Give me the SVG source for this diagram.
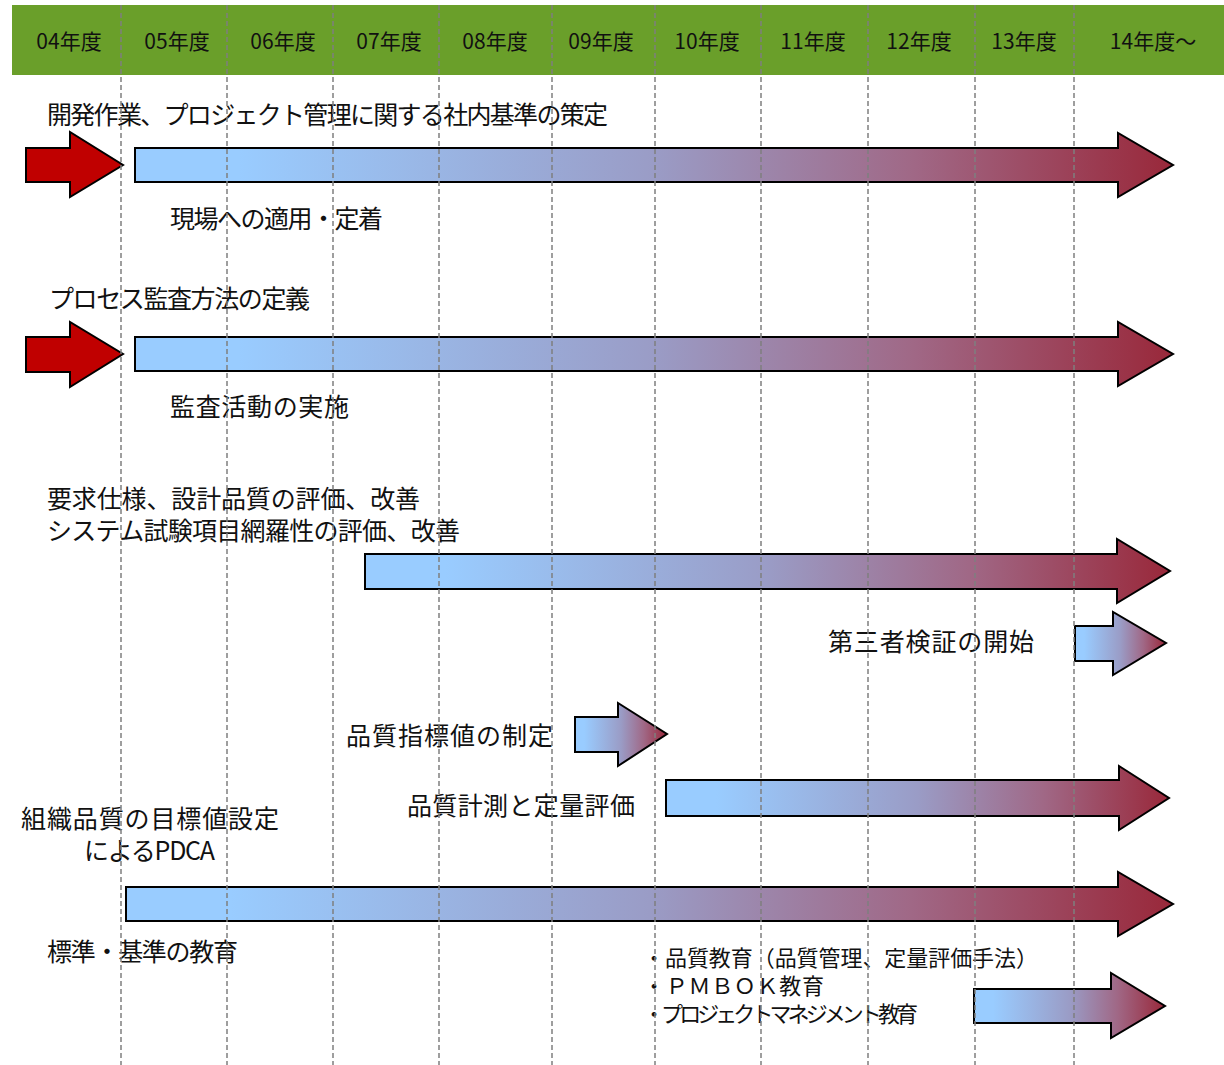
<svg xmlns="http://www.w3.org/2000/svg" width="1224" height="1065" viewBox="0 0 1224 1065">
<style>
text{font-family:"Meiryo UI","Noto Sans CJK JP","Noto Sans",sans-serif;fill:#111}
.hd{font-size:21px;text-anchor:middle}
.lb{font-size:25px}
.sm{font-size:22px}
.red{fill:#C00000;stroke:#000;stroke-width:2;stroke-linejoin:miter}
.grd{fill:url(#g);stroke:#000;stroke-width:2;stroke-linejoin:miter}
.grid line{stroke:#7f7f7f;stroke-width:1.5;stroke-dasharray:5 3}
</style>
<defs>
<linearGradient id="g" x1="0" y1="0" x2="1" y2="0">
<stop offset="0" stop-color="#99CCFF"/>
<stop offset="0.1" stop-color="#99CCFF"/>
<stop offset="0.5" stop-color="#9A9CC6"/>
<stop offset="0.75" stop-color="#A06886"/>
<stop offset="1" stop-color="#99283A"/>
</linearGradient>
</defs>
<rect width="1224" height="1065" fill="#fff"/>
<g id="header">
<rect x="12" y="5" width="1212" height="70" fill="#6A9F2A"/>
<text class="hd" x="69" y="49">04年度</text>
<text class="hd" x="177" y="49">05年度</text>
<text class="hd" x="283" y="49">06年度</text>
<text class="hd" x="389" y="49">07年度</text>
<text class="hd" x="495" y="49">08年度</text>
<text class="hd" x="601" y="49">09年度</text>
<text class="hd" x="707" y="49">10年度</text>
<text class="hd" x="813" y="49">11年度</text>
<text class="hd" x="919" y="49">12年度</text>
<text class="hd" x="1024" y="49">13年度</text>
<text class="hd" x="1153" y="49">14年度～</text>
</g>
<g id="row1">
<text class="lb" x="47" y="124" textLength="561">開発作業、プロジェクト管理に関する社内基準の策定</text>
<polygon class="red" points="26,148 70,148 70,132 123,165 70,197 70,182 26,182"/>
<polygon class="grd" points="135,148 1118,148 1118,133 1173,165 1118,197 1118,182 135,182"/>
<text class="lb" x="170" y="228" textLength="213">現場への適用・定着</text>
</g>
<g id="row2">
<text class="lb" x="49" y="308" textLength="261">プロセス監査方法の定義</text>
<polygon class="red" points="26,337 70,337 70,322 123,354 70,387 70,372 26,372"/>
<polygon class="grd" points="135,337 1118,337 1118,322 1173,354 1118,386 1118,371 135,371"/>
<text class="lb" x="170" y="416" textLength="179">監査活動の実施</text>
</g>
<g id="row3">
<text class="lb" x="47" y="508" textLength="373">要求仕様、設計品質の評価、改善</text>
<text class="lb" x="47" y="540" textLength="413">システム試験項目網羅性の評価、改善</text>
<polygon class="grd" points="365,554 1117,554 1117,539 1170,571 1117,603 1117,589 365,589"/>
</g>
<g id="row4">
<text class="lb" x="828" y="651" textLength="206">第三者検証の開始</text>
<polygon class="grd" points="1075,626 1113,626 1113,612 1166,643 1113,675 1113,661 1075,661"/>
</g>
<g id="row5">
<text class="lb" x="346" y="745" textLength="207">品質指標値の制定</text>
<polygon class="grd" points="575,717 618,717 618,703 667,734 618,766 618,752 575,752"/>
</g>
<g id="row6">
<text class="lb" x="407" y="815" textLength="228">品質計測と定量評価</text>
<polygon class="grd" points="666,780 1119,780 1119,766 1169,798 1119,830 1119,816 666,816"/>
</g>
<g id="row7">
<text class="lb" x="21" y="828" textLength="258">組織品質の目標値設定</text>
<text class="lb" x="84" y="860" textLength="131">によるPDCA</text>
<polygon class="grd" points="126,887 1118,887 1118,872 1173,904 1118,936 1118,921 126,921"/>
<text class="lb" x="47" y="961" textLength="191">標準・基準の教育</text>
</g>
<g id="row8">
<text class="sm" x="643" y="966" textLength="395">・品質教育（品質管理、定量評価手法）</text>
<text class="sm" x="643" y="994" textLength="181">・ＰＭＢＯＫ教育</text>
<text class="sm" x="643" y="1022" textLength="275">・プロジェクトマネジメント教育</text>
<polygon class="grd" points="974,989 1111,989 1111,973 1165,1006 1111,1038 1111,1023 974,1023"/>
</g>
<g id="grid" class="grid">
<line x1="121" y1="5" x2="121" y2="1065"/>
<line x1="227" y1="5" x2="227" y2="1065"/>
<line x1="333" y1="5" x2="333" y2="1065"/>
<line x1="439" y1="5" x2="439" y2="1065"/>
<line x1="552" y1="5" x2="552" y2="1065"/>
<line x1="655" y1="5" x2="655" y2="1065"/>
<line x1="761" y1="5" x2="761" y2="1065"/>
<line x1="868" y1="5" x2="868" y2="1065"/>
<line x1="975" y1="5" x2="975" y2="1065"/>
<line x1="1074" y1="5" x2="1074" y2="1065"/>
</g>
</svg>
